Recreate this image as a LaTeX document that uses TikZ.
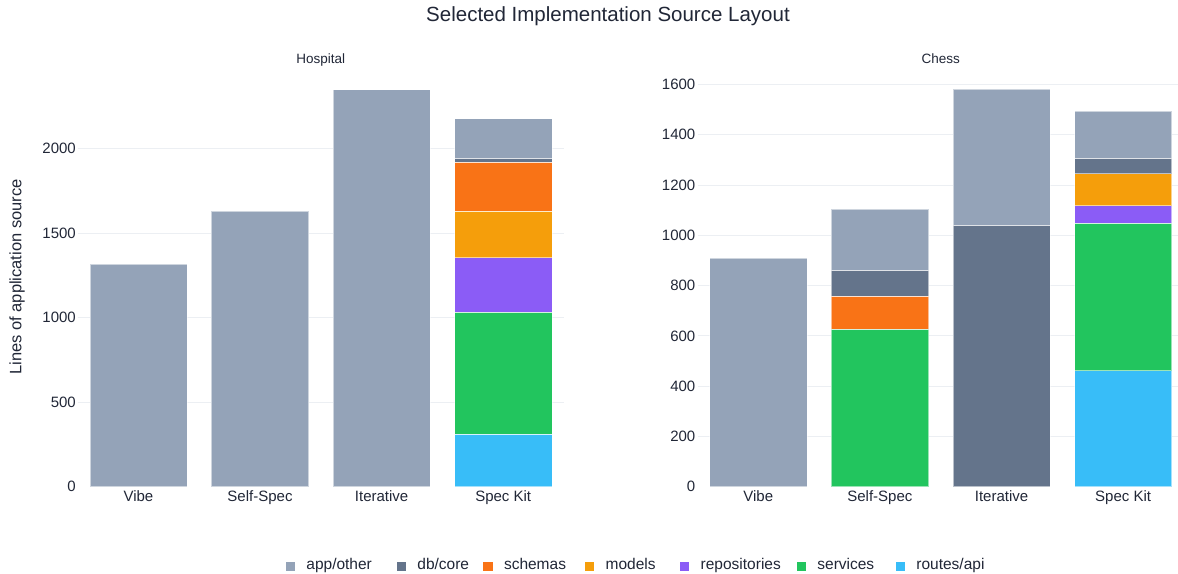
\documentclass[tikz,border=0pt]{standalone}
\usepackage{fontspec}
\setmainfont{Liberation Sans}
\usetikzlibrary{positioning}

\definecolor{ink}{RGB}{33,39,55}
\definecolor{gridc}{RGB}{236,239,243}
\definecolor{appother}{HTML}{94A3B8}
\definecolor{dbcore}{HTML}{64748B}
\definecolor{schemas}{HTML}{F97316}
\definecolor{models}{HTML}{F59E0B}
\definecolor{repos}{HTML}{8B5CF6}
\definecolor{services}{HTML}{22C55E}
\definecolor{routes}{HTML}{38BDF8}

\tikzset{
  gridline/.style={gridc, line width=0.8pt},
  seg/.style={draw=white, draw opacity=0.55, line width=0.6pt},
  ticklab/.style={text=ink, inner sep=0pt, anchor=east, font=\fontsize{15}{18}\selectfont},
  catlab/.style={text=ink, inner sep=0pt, anchor=base, font=\fontsize{15}{18}\selectfont},
  paneltitle/.style={text=ink, inner sep=0pt, anchor=base, font=\fontsize{13.5}{16}\selectfont},
  legsq/.style={minimum size=9.3pt, inner sep=0pt},
  legtxt/.style={text=ink, inner sep=0pt, anchor=base west, font=\fontsize{15.5}{18}\selectfont}
}

\begin{document}
\begin{tikzpicture}[x=1pt, y=1pt]
        \useasboundingbox (0,0) rectangle (1178,573);
        \fill[white] (0,0) rectangle (1178,573);

        \node[text=ink, inner sep=0pt, anchor=base, font=\fontsize{20.5}{24}\selectfont] (title) at (608,551.3) {Selected Implementation Source Layout};
        \node[paneltitle] (hosp) at (320.8,509) {Hospital};
        \node[paneltitle] (chess) at (940.8,509) {Chess};
        \node[text=ink, rotate=90, inner sep=0pt, font=\fontsize{16.5}{20}\selectfont] (ylab) at (17.2,296) {Lines of application source};

        % Hospital
        \begin{scope}[yshift=86.3pt, y=0.169pt]
            \foreach \v in {500,1000,1500,2000}
                \draw[gridline] (77.6,\v) -- (564,\v);
            \foreach \v in {0,500,1000,1500,2000}
                \node[ticklab] (h\v) at (76,\v) {\v};
            \foreach \c/\lo/\hi/\col in {0/0/1318/appother, 1/0/1630/appother, 2/0/2350/appother,
                    3/0/310/routes, 3/310/1032/services, 3/1032/1355/repos, 3/1355/1630/models,
                    3/1630/1920/schemas, 3/1920/1945/dbcore, 3/1945/2178/appother}
                \draw[seg, fill=\col] ({89.8+121.6*\c},\lo) rectangle ({187+121.6*\c},\hi);
        \end{scope}

        % Chess
        \begin{scope}[yshift=86.3pt, y=0.2514pt]
            \foreach \v in {200,400,...,1600}
                \draw[gridline] (697.5,\v) -- (1178,\v);
            \foreach \v in {0,200,...,1600}
                \node[ticklab] (c\v) at (695.5,\v) {\v};
            \foreach \c/\lo/\hi/\col in {0/0/909/appother,
                    1/0/626/services, 1/626/759/schemas, 1/759/860/dbcore, 1/860/1103/appother,
                    2/0/1039/dbcore, 2/1039/1582/appother,
                    3/0/462/routes, 3/462/1047/services, 3/1047/1118/repos, 3/1118/1245/models,
                    3/1245/1307/dbcore, 3/1307/1495/appother}
                \draw[seg, fill=\col] ({709.7+121.6*\c},\lo) rectangle ({806.9+121.6*\c},\hi);
        \end{scope}

        \foreach \c/\name in {0/Vibe, 1/Self-Spec, 2/Iterative, 3/Spec Kit} {
            \node[catlab] (hx\c) at ({138.4+121.6*\c},71.3) {\name};
            \node[catlab] (cx\c) at ({758.3+121.6*\c},71.3) {\name};
        }

        % legend
        \foreach \x/\col/\name in {285.7/appother/app\slash other, 396.7/dbcore/db\slash core,
                483.3/schemas/schemas, 585/models/models, 680/repos/repositories,
                796.7/services/services, 895.7/routes/routes\slash api} {
            \node[legsq, fill=\col] (sq-\col) at (\x+4.65,6.65) {};
            \node[legtxt] (lg-\col) at (\x+20.5,3.7) {\name};
        }
\end{tikzpicture}
\end{document}
